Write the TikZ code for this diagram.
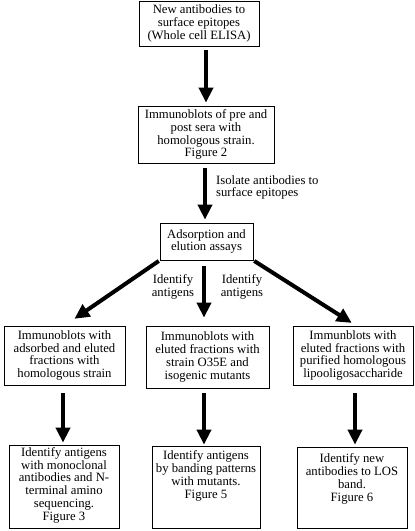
\documentclass[tikz,border=0pt]{standalone}
\usepackage{fontspec}
\setmainfont{Liberation Serif}
\usetikzlibrary{arrows.meta}
\begin{document}
\begin{tikzpicture}[x=1pt,y=-1pt,
  box/.style={draw, line width=0.8pt, align=center, inner sep=0pt, font=\fontsize{12.7}{12.8}\selectfont},
  txt/.style={align=center, inner sep=0pt, font=\fontsize{12.7}{12.8}\selectfont},
  flow/.style={line width=4pt, -{Triangle[width=14pt,length=15pt]}}]
\useasboundingbox (0,0) rectangle (415,531);
% boxes
\node[box, minimum width=120pt, minimum height=45pt] (b1) at (199,23.5) {New antibodies to\\surface epitopes\\(Whole cell ELISA)};
\node[box, minimum width=136pt, minimum height=57pt] (b2) at (206,134.5) {Immunoblots of pre and\\post sera with\\homologous strain.\\Figure 2};
\node[box, minimum width=93pt, minimum height=37pt] (b3) at (206.5,241.5) {Adsorption and\\elution assays};
\node[box, minimum width=121pt, minimum height=59pt] (b4l) at (64.5,355.5) {Immunoblots with\\adsorbed and eluted\\fractions with\\homologous strain};
\node[box, minimum width=123pt, minimum height=62pt] (b4m) at (207.5,357) {Immunoblots with\\eluted fractions with\\strain O35E and\\isogenic mutants};
\node[box, minimum width=120pt, minimum height=59pt] (b4r) at (353,355.5) {Immunblots with\\eluted fractions with\\purified homologous\\lipooligosaccharide};
\node[box, minimum width=110pt, minimum height=83pt] (b5l) at (64,486.5) {};
\node[box, minimum width=108pt, minimum height=82pt] (b5m) at (206,487) {};
\node[box, minimum width=110pt, minimum height=81pt] (b5r) at (352,487.5) {};
\node[txt, anchor=north] (t5l) at ([yshift=-2.5pt]b5l.north) {Identify antigens\\with monoclonal\\antibodies and N-\\terminal amino\\sequencing.\\Figure 3};
\node[txt, anchor=north] (t5m) at ([yshift=-5pt]b5m.north) {Identify antigens\\by banding patterns\\with mutants.\\Figure 5};
\node[txt, anchor=north] (t5r) at ([yshift=-7pt]b5r.north) {Identify new\\antibodies to LOS\\band.\\Figure 6};
% labels
\node[txt, align=left, anchor=west] (l1) at (216,187.5) {Isolate antibodies to\\surface epitopes};
\node[txt] (l2) at (173,286.5) {Identify\\antigens};
\node[txt] (l3) at (242,286.5) {Identify\\antigens};
% arrows
\draw[flow, shorten <=4pt, shorten >=3pt] (b1.south -| b2.north) -- (b2.north);
\draw[flow, shorten <=5pt, shorten >=3pt] ([xshift=-1pt]b2.south) -- ([xshift=-1.5pt]b3.north);
\draw[flow, shorten <=1pt, shorten >=12pt] (b3.south west) -- (b4l.north);
\draw[flow, shorten <=6pt, shorten >=8pt] ([xshift=-2.5pt]b3.south) -- ([xshift=-3.5pt]b4m.north);
\draw[flow, shorten <=1pt, shorten >=5pt] (b3.south east) -- ([xshift=3pt]b4r.north);
\draw[flow, shorten <=8pt, shorten >=2pt] ([xshift=-1.5pt]b4l.south) -- ([xshift=-1pt]b5l.north);
\draw[flow, shorten <=5pt, shorten >=1pt] ([xshift=-3.5pt]b4m.south) -- ([xshift=-2pt]b5m.north);
\draw[flow, shorten <=8pt, shorten >=2pt] ([xshift=2pt]b4r.south) -- ([xshift=3pt]b5r.north);
\end{tikzpicture}
\end{document}
